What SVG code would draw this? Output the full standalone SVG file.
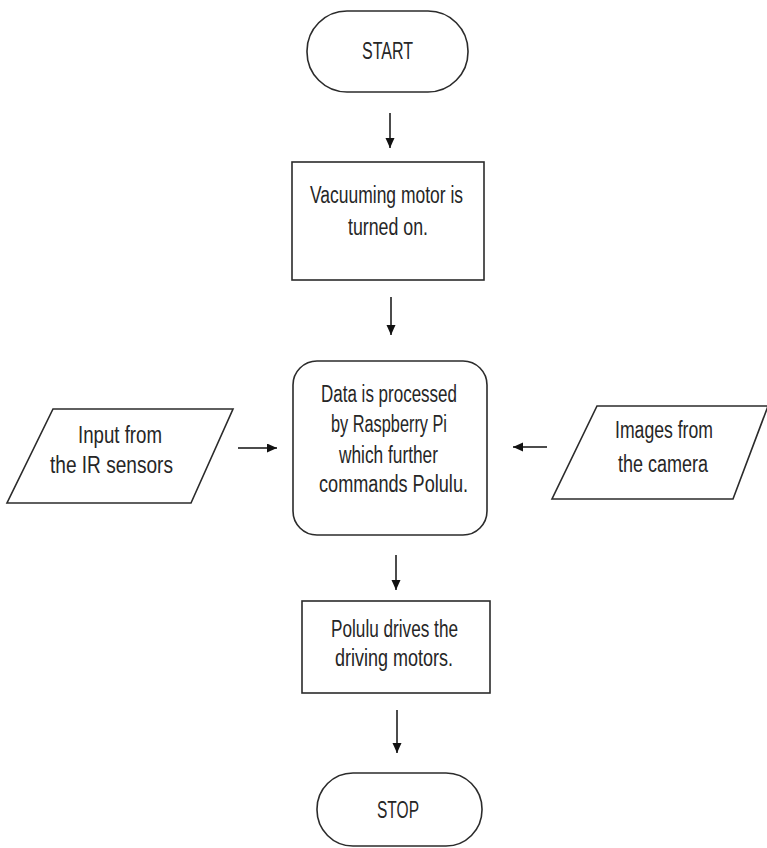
<svg xmlns="http://www.w3.org/2000/svg" width="767" height="848" viewBox="0 0 767 848">
<defs>
<style>
.shape{fill:#ffffff;stroke:#2b2b2b;stroke-width:1.6}
.conn{stroke:#111;stroke-width:1.5;fill:none}
.t{font-family:"Liberation Sans",Arial,sans-serif;font-size:23px;fill:#262626}
</style>
<marker id="ah" markerUnits="userSpaceOnUse" markerWidth="11" markerHeight="10" refX="10" refY="4.5" orient="auto">
<path d="M0,0 L10,4.5 L0,9 z" fill="#111"/>
</marker>
</defs>
<rect width="767" height="848" fill="#ffffff"/>
<g id="connectors">
<line class="conn" x1="390" y1="113" x2="390" y2="148" marker-end="url(#ah)"/>
<line class="conn" x1="391" y1="297" x2="391" y2="335" marker-end="url(#ah)"/>
<line class="conn" x1="238" y1="448" x2="277" y2="448" marker-end="url(#ah)"/>
<line class="conn" x1="547" y1="447" x2="513" y2="447" marker-end="url(#ah)"/>
<line class="conn" x1="396" y1="555" x2="396" y2="590" marker-end="url(#ah)"/>
<line class="conn" x1="397" y1="710" x2="397" y2="753" marker-end="url(#ah)"/>
</g>
<g id="start">
<rect class="shape" x="307" y="11" width="161" height="81" rx="40" ry="40"/>
<text class="t" x="362" y="59" textLength="51" lengthAdjust="spacingAndGlyphs">START</text>
</g>
<g id="vacuum">
<rect class="shape" x="292" y="162" width="192" height="118"/>
<text class="t" x="310" y="203" textLength="153" lengthAdjust="spacingAndGlyphs">Vacuuming motor is</text>
<text class="t" x="348" y="235" textLength="80" lengthAdjust="spacingAndGlyphs">turned on.</text>
</g>
<g id="process">
<rect class="shape" x="293" y="361" width="194" height="174" rx="24" ry="24"/>
<text class="t" x="321" y="402" textLength="136" lengthAdjust="spacingAndGlyphs">Data is processed</text>
<text class="t" x="331" y="432" textLength="116" lengthAdjust="spacingAndGlyphs">by Raspberry Pi</text>
<text class="t" x="339" y="463" textLength="99" lengthAdjust="spacingAndGlyphs">which further</text>
<text class="t" x="319" y="492" textLength="149" lengthAdjust="spacingAndGlyphs">commands Polulu.</text>
</g>
<g id="ir-input">
<polygon class="shape" points="53,409 233,409 191,503 7,503"/>
<text class="t" x="78" y="443" textLength="84" lengthAdjust="spacingAndGlyphs">Input from</text>
<text class="t" x="50" y="473" textLength="123" lengthAdjust="spacingAndGlyphs">the IR sensors</text>
</g>
<g id="camera-input">
<polygon class="shape" points="597,406 768,406 733,499 552,499"/>
<text class="t" x="615" y="438" textLength="98" lengthAdjust="spacingAndGlyphs">Images from</text>
<text class="t" x="618" y="472" textLength="90" lengthAdjust="spacingAndGlyphs">the camera</text>
</g>
<g id="polulu">
<rect class="shape" x="302" y="601" width="188" height="92"/>
<text class="t" x="331" y="637" textLength="127" lengthAdjust="spacingAndGlyphs">Polulu drives the</text>
<text class="t" x="335" y="666" textLength="118" lengthAdjust="spacingAndGlyphs">driving motors.</text>
</g>
<g id="stop">
<rect class="shape" x="317" y="773" width="165" height="73" rx="36" ry="36"/>
<text class="t" x="377" y="818" textLength="42" lengthAdjust="spacingAndGlyphs">STOP</text>
</g>
</svg>
